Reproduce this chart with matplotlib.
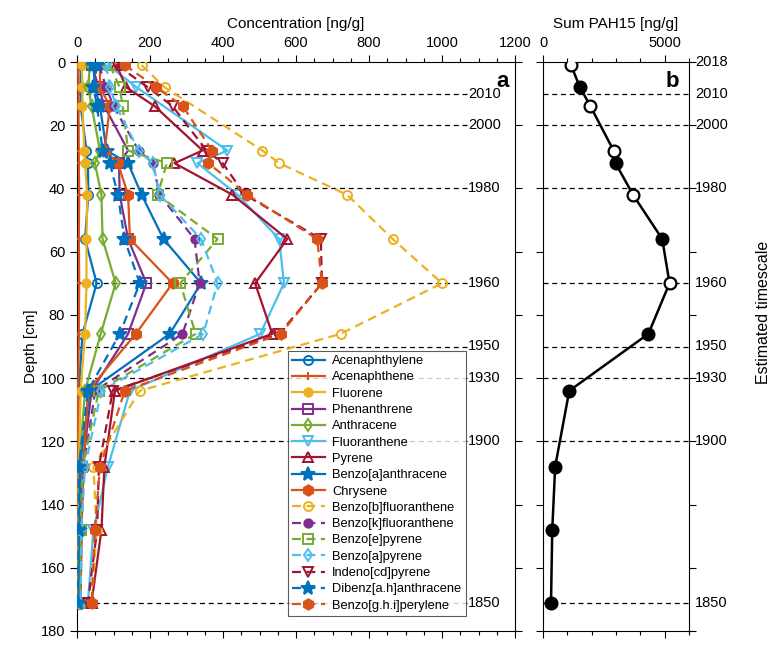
import numpy as np
import matplotlib
matplotlib.use("Agg")
import matplotlib.pyplot as plt
from matplotlib.ticker import MultipleLocator

plt.rcParams['font.family'] = ['Liberation Sans', 'DejaVu Sans']

# Sample depths [cm]
depth = [1, 8, 14, 28, 32, 42, 56, 70, 86, 104, 128, 148, 171]
nan = np.nan

# PAH concentrations [ng/g] per depth
acenaphthylene = [10, 10, 10, 26, 30, 31, 22, 54, 15, 5, 3, 3, 3]
acenaphthene = [3, 4, 4, 5, 5, 6, 5, 6, 5, 3, 2, 2, 2]
fluorene = [13, 15, 15, 20, 22, 28, 26, 26, 22, 10, 5, 5, 5]
phenanthrene = [40, 60, 75, 140, 115, 117, 140, 190, 140, 40, 15, 12, 10]
anthracene = [35, 31, 40, 63, 49, 67, 70, 106, 65, 22, 6, 5, 5]
fluoranthene = [85, 163, nan, 412, 330, 440, 554, 567, 502, 145, 85, 45, 30]
pyrene = [108, 135, 213, 344, 267, 426, 576, 488, 535, 104, 75, 67, 40]
benz_a_anthracene = [45, 49, 63, 81, 140, 177, 237, 340, 254, 35, 8, 8, 5]
chrysene = [63, 63, 90, 76, 112, 140, 145, 262, 161, 30, 18, 12, 10]
benzo_b_fluoranthene = [177, 240, nan, 508, 554, 740, 865, 1000, 722, 172, 45, 54, 40]
benzo_k_fluoranthene = [60, 80, 100, 169, 208, 226, 322, 336, 289, 50, 18, 12, 10]
benzo_e_pyrene = [90, 117, 125, 140, 246, 221, 385, 283, 325, 60, 15, 10, 8]
benzo_a_pyrene = [80, 90, 108, 169, 208, 227, 340, 385, 346, 67, 22, 12, 10]
indeno_cd_pyrene = [110, 194, 262, 355, 399, 460, 668, 671, 554, 98, 60, 55, 30]
dibenz_ah_anthracene = [55, 45, 55, 70, 90, 112, 130, 172, 117, 30, 5, 5, 3]
benzo_ghi_perylene = [131, 217, 290, 370, 360, 467, 658, 671, 558, 131, 63, 49, 40]

names = ['Acenaphthylene', 'Acenaphthene', 'Fluorene', 'Phenanthrene',
         'Anthracene', 'Fluoranthene', 'Pyrene', 'Benzo[a]anthracene',
         'Chrysene', 'Benzo[b]fluoranthene', 'Benzo[k]fluoranthene',
         'Benzo[e]pyrene', 'Benzo[a]pyrene', 'Indeno[cd]pyrene',
         'Dibenz[a.h]anthracene', 'Benzo[g.h.i]perylene']
series = [acenaphthylene, acenaphthene, fluorene, phenanthrene, anthracene,
          fluoranthene, pyrene, benz_a_anthracene, chrysene,
          benzo_b_fluoranthene, benzo_k_fluoranthene, benzo_e_pyrene,
          benzo_a_pyrene, indeno_cd_pyrene, dibenz_ah_anthracene,
          benzo_ghi_perylene]

# Sum of PAH15 [ng/g]
sum_pah15 = [1150, 1520, 1950, 2900, 2980, 3700, 4900, 5200, 4330, 1080, 500, 380, 330]
sum_open = [True, False, True, True, False, True, False, True, False, False, False, False, False]

# Estimated timescale (year, depth in cm)
years = ['2018', '2010', '2000', '1980', '1960', '1950', '1930', '1900', '1850']
year_depth = [0, 10, 20, 40, 70, 90, 100, 120, 171]

colors = ['#0072BD', '#D95319', '#EDB120', '#7E2F8E', '#77AC30', '#4DBEEE', '#A2142F']
markers = ['o', '+', '.', 's', 'd', 'v', '^', '*', 'h',
           'o', '.', 's', 'd', 'v', '*', 'h']
styles = ['-'] * 9 + [(0, (4, 2.5))] * 7

fig = plt.figure(figsize=(7.83, 6.62), dpi=100)
W, H = 783, 662
ax = fig.add_axes([77 / W, 1 - 631 / H, (515 - 77) / W, (631 - 62) / H])
axb = fig.add_axes([543 / W, 1 - 631 / H, (689 - 543) / W, (631 - 62) / H])

dash = (0, (4, 3))
for d in year_depth[1:]:
    ax.plot([0, 1068], [d, d], color='black', lw=0.9, ls=dash, zorder=1)
    axb.axhline(d, color='black', lw=0.9, ls=dash, zorder=1)

for i, (vals, name) in enumerate(zip(series, names)):
    v = np.asarray(vals, dtype=float)
    dd = np.asarray(depth, dtype=float)
    ok = ~np.isnan(v)
    m = markers[i]
    ms = {'.': 12, '*': 10, 'h': 7.5, 'o': 6.5, '+': 6}.get(m, 6.5)
    ax.plot(v[ok], dd[ok], ls=styles[i], color=colors[i % 7], lw=1.6,
            marker=m, ms=ms, mew=1.4,
            mfc=colors[i % 7] if m in ('.', '*', 'h') else 'none',
            label=name, zorder=3)

for y, d in zip(years[1:], year_depth[1:]):
    ax.text(1072, d, y, ha='left', va='center', fontsize=10.5)
ax.text(0.985, 0.985, 'a', transform=ax.transAxes, ha='right', va='top',
        fontsize=16, fontweight='bold')

ax.set_xlim(0, 1200)
ax.set_ylim(180, 0)
ax.xaxis.tick_top()
ax.xaxis.set_label_position('top')
ax.xaxis.set_major_locator(MultipleLocator(200))
ax.xaxis.set_minor_locator(MultipleLocator(50))
ax.yaxis.set_major_locator(MultipleLocator(20))
ax.tick_params(which='both', direction='out', top=True, bottom=True,
               left=True, right=True, labelsize=10.5, width=0.8)
ax.tick_params(which='major', length=5)
ax.tick_params(which='minor', length=3)
ax.set_xlabel('Concentration [ng/g]', fontsize=11, labelpad=6)
ax.set_ylabel('Depth [cm]', fontsize=11, labelpad=2)

leg = ax.legend(loc='lower right', bbox_to_anchor=(0.888, 0.026), fontsize=9.3,
                frameon=True, fancybox=False, edgecolor='#333333',
                handlelength=2.5, labelspacing=0.33, borderpad=0.35,
                handletextpad=0.6, borderaxespad=0)
leg.get_frame().set_linewidth(0.8)
leg.set_zorder(5)

# Sum PAH15 profile
axb.plot(sum_pah15, depth, color='black', lw=1.8, zorder=3)
for s, d, op in zip(sum_pah15, depth, sum_open):
    axb.plot([s], [d], marker='o', ms=8.5, mew=1.6, color='black',
             mfc='white' if op else 'black', zorder=4)
axb.set_xlim(0, 6000)
axb.set_ylim(180, 0)
axb.xaxis.tick_top()
axb.xaxis.set_label_position('top')
axb.set_xticks([0, 5000])
axb.xaxis.set_minor_locator(MultipleLocator(1000))
axb.yaxis.set_major_locator(MultipleLocator(20))
axb.tick_params(which='both', direction='out', top=True, bottom=True,
                left=True, right=True, labelleft=False, labelsize=10.5, width=0.8)
axb.tick_params(which='major', length=5)
axb.tick_params(which='minor', length=3)
axb.set_xlabel('Sum PAH15 [ng/g]', fontsize=11, labelpad=6)
axb.text(0.93, 0.985, 'b', transform=axb.transAxes, ha='right', va='top',
         fontsize=16, fontweight='bold')
for y, d in zip(years, year_depth):
    axb.text(1.04, d, y, transform=axb.get_yaxis_transform(), ha='left',
             va='center', fontsize=10.5)
fig.text(763 / W, 1 - 312 / H, 'Estimated timescale', rotation=90,
         ha='center', va='center', fontsize=11.5)

fig.savefig('out.png', dpi=100)
